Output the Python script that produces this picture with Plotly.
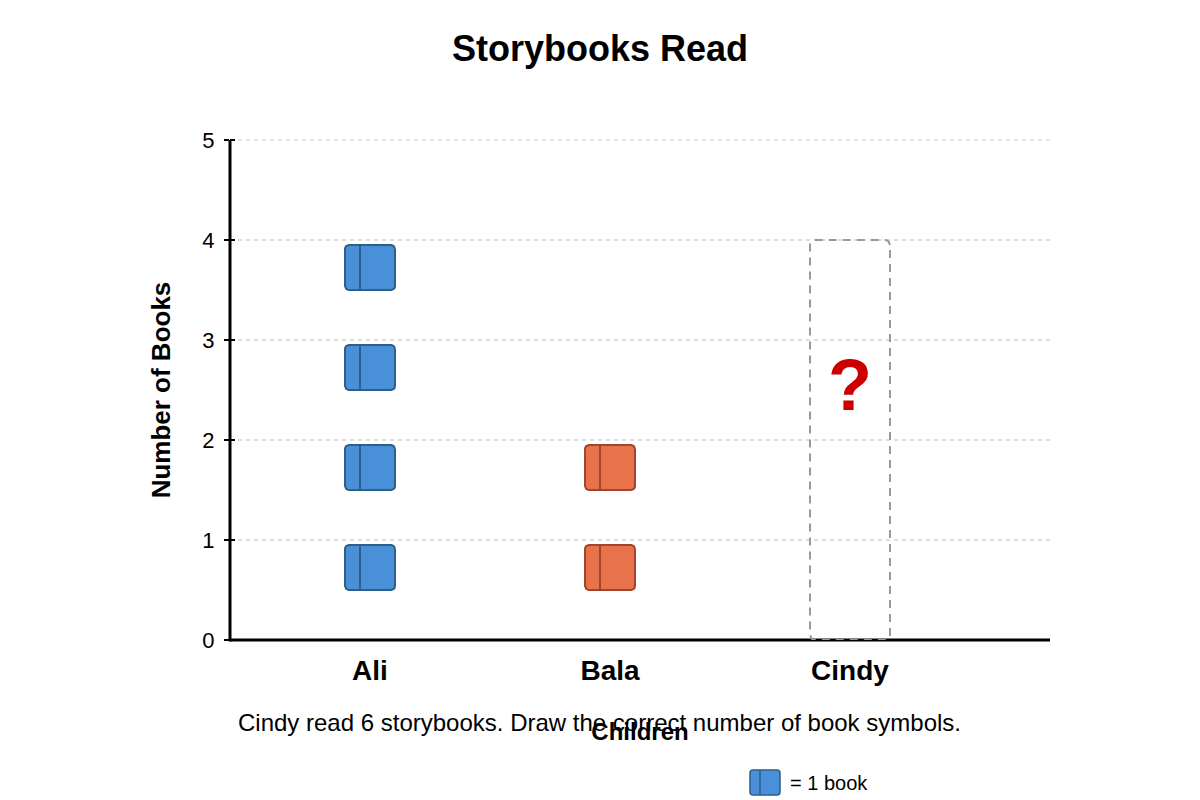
import plotly.graph_objects as go

children = ["Ali", "Bala", "Cindy"]
books_read = [4, 2, None]
book_fill = ["#4a90d9", "#e8734a"]
book_edge = ["#2c5f8a", "#a0452e"]
y_ticks = [0, 1, 2, 3, 4, 5]
claimed_height = 4
title = "Storybooks Read"
note = "Cindy read 6 storybooks. Draw the correct number of book symbols."
key_text = "= 1 book"

L, R, T, B = 230, 1050, 140, 640
XMIN = (L - 370) / 240
XMAX = (R - 370) / 240
PX = 240
PY = 100


def rounded(x0, x1, y0, y1, r):
    rx, ry = r / PX, r / PY
    xs, ys = [], []
    arc = [(1, 0), (0.92, 0.38), (0.71, 0.71), (0.38, 0.92), (0, 1)]
    for cx, cy, sx, sy, rev in [
        (x1 - rx, y1 - ry, 1, 1, False),
        (x0 + rx, y1 - ry, -1, 1, True),
        (x0 + rx, y0 + ry, -1, -1, False),
        (x1 - rx, y0 + ry, 1, -1, True),
    ]:
        pts = arc[::-1] if rev else arc
        for a, b in pts:
            xs.append(cx + sx * a * rx)
            ys.append(cy + sy * b * ry)
    xs.append(xs[0])
    ys.append(ys[0])
    return xs, ys


def add_book(fig, x0, x1, y0, y1, spine, fill, edge, r=4):
    xs, ys = rounded(x0, x1, y0, y1, r)
    fig.add_trace(go.Scatter(x=xs, y=ys, mode="lines", fill="toself", fillcolor=fill,
                             line=dict(color=edge, width=2), hoverinfo="skip",
                             showlegend=False))
    fig.add_trace(go.Scatter(x=[spine, spine], y=[y0, y1], mode="lines",
                             line=dict(color=edge, width=2), hoverinfo="skip",
                             showlegend=False))


fig = go.Figure()

cx, cy = rounded(2 - 40 / PX, 2 + 40 / PX, 0, claimed_height, 5)
fig.add_trace(go.Scatter(x=cx, y=cy, mode="lines",
                         line=dict(color="#999999", width=2, dash="8px,6px"),
                         hoverinfo="skip", showlegend=False, cliponaxis=False))

for i, n in enumerate(books_read):
    if n is None:
        continue
    for b in range(n):
        add_book(fig, i - 25 / PX, i + 25 / PX, b + 0.5, b + 0.95, i - 10 / PX,
                 book_fill[i], book_edge[i])


def px(v):
    return (v - L) / (R - L)


def py(v):
    return (B - v) / (B - T)


kx0, kx1, ky0, ky1, kr = px(750), px(780), py(795), py(770), 3
krx, kry = kr / (R - L), kr / (B - T)
key_path = (
    f"M {kx0 + krx} {ky1} L {kx1 - krx} {ky1} Q {kx1} {ky1} {kx1} {ky1 - kry} "
    f"L {kx1} {ky0 + kry} Q {kx1} {ky0} {kx1 - krx} {ky0} "
    f"L {kx0 + krx} {ky0} Q {kx0} {ky0} {kx0} {ky0 + kry} "
    f"L {kx0} {ky1 - kry} Q {kx0} {ky1} {kx0 + krx} {ky1} Z"
)
fig.add_shape(type="path", xref="paper", yref="paper", path=key_path,
              fillcolor=book_fill[0], line=dict(color=book_edge[0], width=1.5), layer="above")
fig.add_shape(type="line", xref="paper", yref="paper", x0=px(760), x1=px(760), y0=ky0, y1=ky1,
              line=dict(color=book_edge[0], width=1.5), layer="above")

fig.add_annotation(x=2, y=2.55, text="<b>?</b>", showarrow=False,
                   font=dict(size=72, color="#cc0000", family="Liberation Sans"))
fig.add_annotation(xref="paper", yref="paper", x=px(600), y=py(722),
                   text=note, showarrow=False, yanchor="middle", xanchor="center",
                   xshift=-0.5, font=dict(size=24, color="#000000"))
fig.add_annotation(xref="paper", yref="paper", x=px(790), y=py(783),
                   text=key_text, showarrow=False, xanchor="left", yanchor="middle",
                   xshift=-2, font=dict(size=20, color="#000000"))

# Axis lines centred on the plot edges
fig.add_shape(type="line", xref="paper", yref="paper", x0=0, x1=0, y0=py(641.5), y1=1,
              line=dict(color="#000000", width=3), layer="below")
fig.add_shape(type="line", xref="paper", yref="paper", x0=0, x1=1, y0=0, y1=0,
              line=dict(color="#000000", width=3), layer="below")

# Inward half of each y tick
for v in y_ticks:
    fig.add_shape(type="line", xref="paper", yref="paper", x0=0, x1=5 / (R - L),
                  y0=v / y_ticks[-1], y1=v / y_ticks[-1],
                  line=dict(color="#000000", width=2), layer="above")

# Top gridline sits on the range edge
fig.add_shape(type="line", xref="paper", yref="paper", x0=0, x1=1, y0=1, y1=1,
              line=dict(color="#dddddd", width=1.5, dash="4px,4px"), layer="below")

fig.update_layout(
    width=1200, height=800, autosize=False,
    margin=dict(l=L, r=1200 - R, t=T, b=800 - B),
    paper_bgcolor="#ffffff", plot_bgcolor="#ffffff",
    font=dict(family="Liberation Sans", color="#000000"),
    title=dict(text="<b>" + title + "</b>", x=0.5, xanchor="center", y=1 - 48 / 800,
               yanchor="middle", font=dict(size=36, color="#000000")),
    xaxis=dict(range=[XMIN, XMAX], tickmode="array", tickvals=list(range(len(children))),
               ticktext=["<b>" + c + "</b>" for c in children], tickfont=dict(size=28),
               showgrid=False, zeroline=False, showline=False,
               ticks="", ticklabelstandoff=11, layer="below traces",
               title=dict(text="<b>Children</b>", font=dict(size=24), standoff=38)),
    yaxis=dict(range=[0, 5], tickmode="array", tickvals=y_ticks, tickfont=dict(size=22),
               showgrid=True, gridcolor="#dddddd", gridwidth=1.5, griddash="4px,4px",
               zeroline=False, showline=False,
               ticks="outside", ticklen=5, tickwidth=2, tickcolor="#000000",
               ticklabelstandoff=5,
               title=dict(text="<b>Number of Books</b>", font=dict(size=26), standoff=24)),
)

fig.write_html("out.html", config={"displayModeBar": False},
               post_script="document.body.style.margin='0';")
